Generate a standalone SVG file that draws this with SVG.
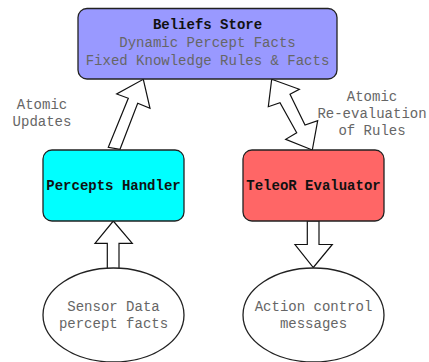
<svg xmlns="http://www.w3.org/2000/svg" width="429" height="362" viewBox="0 0 429 362">
<style>
.box{stroke:#222;stroke-width:1.3}
.ell{fill:#fff;stroke:#222;stroke-width:1.3}
.arr{fill:#fff;stroke:#111;stroke-width:1.2;stroke-linejoin:miter}
text{font-family:"Liberation Mono","DejaVu Sans Mono",monospace;font-size:14px;text-anchor:middle}
.b{font-weight:bold;fill:#111}
.g{fill:#666}
</style>
<rect width="429" height="362" fill="#fff"/>
<g id="connectors">
<polygon class="arr" points="143.3,79.3 150,108.3 137.7,103.3 120,149.3 108.3,147.3 128.3,98.3 116.7,94"/>
<polygon class="arr" points="271.7,79.3 299.3,89.3 290,94.3 305,125 317.7,120.7 312.3,150 285.7,139.3 296.7,132.7 280,102.7 268.3,106.7"/>
<polygon class="arr" points="113.3,221 132.3,243.3 119,243.3 119,268.5 107.3,268.5 107.3,243.3 95,243.3"/>
<polygon class="arr" points="307.3,221 319,221 319,244.5 332.3,244.5 313.3,267.5 295,244.5 307.3,244.5"/>
</g>
<g id="beliefs">
<rect class="box" x="78" y="8.5" width="259" height="70.5" rx="9" fill="#9999ff"/>
<text x="207.5" y="29" class="b">Beliefs Store</text>
<text x="207.5" y="47" class="g">Dynamic Percept Facts</text>
<text x="207.5" y="65" class="g">Fixed Knowledge Rules &amp; Facts</text>
</g>
<g id="percepts">
<rect class="box" x="43" y="150" width="141" height="71" rx="9" fill="#00ffff"/>
<text x="113.5" y="190" class="b">Percepts Handler</text>
</g>
<g id="teleor">
<rect class="box" x="243" y="150" width="141" height="71" rx="9" fill="#ff6666"/>
<text x="313.5" y="190" class="b">TeleoR Evaluator</text>
</g>
<g id="sensor">
<ellipse class="ell" cx="113.5" cy="315" rx="70.5" ry="47"/>
<text x="113.5" y="311" class="g">Sensor Data</text>
<text x="113.5" y="328" class="g">percept facts</text>
</g>
<g id="action">
<ellipse class="ell" cx="313.5" cy="315" rx="70.5" ry="47"/>
<text x="313.5" y="311" class="g">Action control</text>
<text x="313.5" y="328" class="g">messages</text>
</g>
<g id="labels">
<text x="42" y="109" class="g">Atomic</text>
<text x="42" y="126" class="g">Updates</text>
<text x="372" y="101" class="g">Atomic</text>
<text x="372" y="118" class="g">Re-evaluation</text>
<text x="372" y="135" class="g">of Rules</text>
</g>
</svg>
